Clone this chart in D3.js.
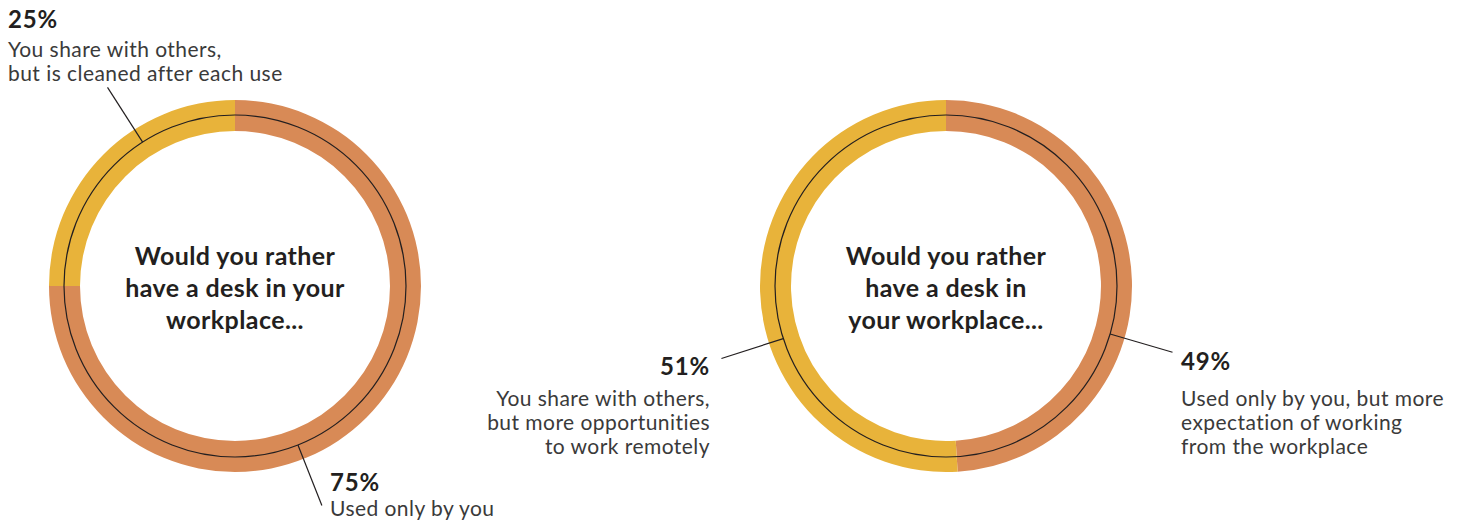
<!DOCTYPE html>
<html>
<head>
<meta charset="utf-8">
<script src="https://cdn.jsdelivr.net/npm/d3@7"></script>
<style>
  html, body { margin: 0; padding: 0; background: #fff; }
  svg { display: block; }
  .pct { font-family: Lato, "Open Sans", sans-serif; font-weight: 700; font-size: 24px; letter-spacing: 0.8px; fill: #231f20; }
  .lab { font-family: Lato, "Open Sans", sans-serif; font-weight: 400; font-size: 21px; letter-spacing: 0.45px; fill: #3a3a3a; }
  .title { font-family: Lato, "Open Sans", sans-serif; font-weight: 700; font-size: 25px; letter-spacing: 0.4px; fill: #231f20; }
</style>
</head>
<body>
<svg id="chart" width="1461" height="523"></svg>
<script>
// ---- data ----
const categoriesLeft = ["Used only by you", "You share with others, but is cleaned after each use"];
const valuesLeft = [75, 25];
const labelsLeft = [["Used only by you"], ["You share with others,", "but is cleaned after each use"]];

const categoriesRight = ["Used only by you, but more expectation of working from the workplace", "You share with others, but more opportunities to work remotely"];
const valuesRight = [49, 51];
const labelsRight = [["Used only by you, but more", "expectation of working", "from the workplace"], ["You share with others,", "but more opportunities", "to work remotely"]];

const titleLeft = ["Would you rather", "have a desk in your", "workplace..."];
const titleRight = ["Would you rather", "have a desk in", "your workplace..."];

const colors = ["#d88a56", "#e8b33a"];

// ---- layout ----
const svg = d3.select("#chart");
const outerR = 186, innerR = 155, lineR = 171, leaderR = 236;

const pie = d3.pie().sort(null).value(d => d);
const arc = d3.arc().innerRadius(innerR).outerRadius(outerR);

function donut(cx, cy, values, labels, title, labelCfg) {
  const g = svg.append("g").attr("transform", `translate(${cx},${cy})`);
  g.selectAll("path.slice").data(pie(values)).join("path")
    .attr("class", "slice")
    .attr("d", arc)
    .attr("fill", (d, i) => colors[i]);
  g.append("circle").attr("r", lineR).attr("fill", "none")
    .attr("stroke", "#231f20").attr("stroke-width", 1.2);

  // title
  const t = g.append("text").attr("class", "title").attr("text-anchor", "middle");
  title.forEach((s, i) => t.append("tspan").attr("x", 0).attr("y", -21 + i * 32).text(s));

  // labels
  labelCfg.forEach((c, i) => {
    const a = c.angle * Math.PI / 180;
    const p = r => [Math.sin(a) * r, -Math.cos(a) * r];
    const [x1, y1] = p(lineR), [x2, y2] = p(leaderR);
    g.append("line").attr("x1", x1).attr("y1", y1).attr("x2", x2).attr("y2", y2)
      .attr("stroke", "#231f20").attr("stroke-width", 1.2);
    const lg = svg.append("g");
    lg.append("text").attr("class", "pct").attr("x", c.x).attr("y", c.y)
      .attr("text-anchor", c.anchor).text(values[c.idx] + "%");
    const tx = lg.append("text").attr("class", "lab").attr("text-anchor", c.anchor);
    labels[c.idx].forEach((s, j) => tx.append("tspan").attr("x", c.x).attr("y", c.y + c.gap + j * 24).text(s));
  });
}

donut(235, 286, valuesLeft, labelsLeft, titleLeft, [
  { idx: 1, angle: 327.3, x: 8, y: 28, gap: 29, anchor: "start" },
  { idx: 0, angle: 158.4, x: 330, y: 491, gap: 25, anchor: "start" }
]);
donut(946, 286, valuesRight, labelsRight, titleRight, [
  { idx: 1, angle: 252.1, x: 710, y: 375, gap: 31, anchor: "end" },
  { idx: 0, angle: 106.3, x: 1181, y: 370, gap: 36, anchor: "start" }
]);
</script>
</body>
</html>
